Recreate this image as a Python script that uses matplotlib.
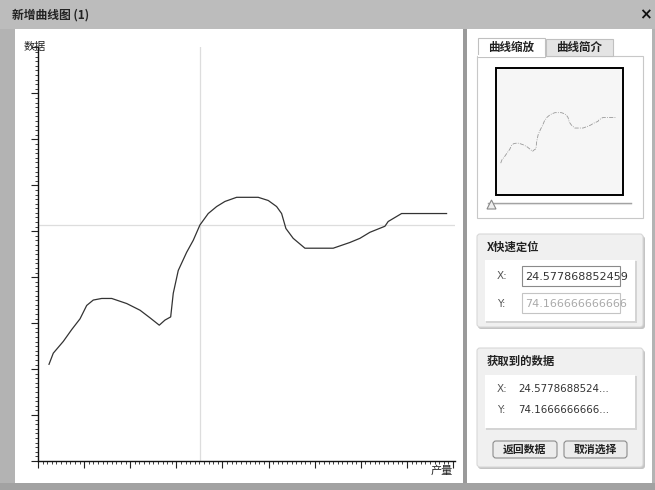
import matplotlib
matplotlib.use("Agg")
import matplotlib.pyplot as plt
from matplotlib.patches import Rectangle, FancyBboxPatch, Polygon
from matplotlib.ticker import MultipleLocator
import numpy as np

plt.rcParams['font.family'] = ['Noto Sans CJK SC', 'DejaVu Sans']

# ---------------- data ----------------
x_vals = [1.67, 2.32, 3.84, 5.11, 6.38, 7.39, 8.39, 9.67, 11.19, 13.47, 15.49,
          17.01, 18.41, 19.27, 20.14, 20.53, 21.29, 22.56, 23.57, 24.58, 25.84,
          27.12, 28.38, 30.15, 33.43, 34.95, 36.22, 36.98, 37.63, 38.74, 40.52,
          44.81, 47.34, 48.86, 50.38, 52.66, 53.16, 55.19, 56.95, 58.98, 62.02]
y_vals = [30.4, 33.9, 37.6, 41.3, 44.7, 48.9, 50.6, 51.1, 51.1, 49.5, 47.4,
          45.0, 42.7, 44.3, 45.3, 52.7, 59.9, 65.6, 69.4, 74.2, 77.8,
          80.0, 81.6, 82.9, 82.9, 81.9, 80.0, 77.8, 73.1, 70.0, 66.9,
          66.9, 68.7, 70.0, 71.9, 73.8, 75.3, 77.8, 77.8, 77.8, 77.8]
cross_x = 24.5778688524
cross_y = 74.1666666666
x_label = "产量"
y_label = "数据"
window_title = "新增曲线图 (1)"
tab_labels = ["曲线缩放", "曲线简介"]
box1_title = "X快速定位"
box2_title = "获取到的数据"
input_x_text = "24.577868852459"
input_y_text = "74.166666666666"
got_x_text = "24.5778688524..."
got_y_text = "74.1666666666..."
button_labels = ["返回数据", "取消选择"]

W, H = 655, 490
fig = plt.figure(figsize=(W / 100, H / 100), dpi=100)

# background axes in pixel coords
bg = fig.add_axes([0, 0, 1, 1])
bg.set_xlim(0, W)
bg.set_ylim(H, 0)
bg.axis('off')
bg.set_zorder(0)


def rect(x0, y0, x1, y1, fc, ec='none', lw=0.8, z=1):
    r = Rectangle((x0, y0), x1 - x0, y1 - y0, facecolor=fc, edgecolor=ec, lw=lw, zorder=z)
    bg.add_patch(r)
    return r


def rbox(x0, y0, x1, y1, fc, ec, lw=0.8, rad=3, z=1):
    r = FancyBboxPatch((x0, y0), x1 - x0, y1 - y0,
                       boxstyle=f"round,pad=0,rounding_size={rad}",
                       facecolor=fc, edgecolor=ec, lw=lw, zorder=z,
                       mutation_aspect=1)
    bg.add_patch(r)
    return r


# window chrome
rect(0, 0, W, H, '#b3b3b3', z=0)
rect(0, 0, W, 29, '#bcbcbc', z=0.5)
rect(0, 483, W, H, '#a2a2a2', z=0.5)
rect(15, 29, 463, 483, 'white', z=1)
rect(463, 29, 467, 483, '#9a9a9a', z=1)
rect(467, 29, 652, 483, 'white', z=1)
bg.text(12, 15, window_title, fontsize=8.5, fontweight='bold', color='#222222',
        va='center', ha='left', zorder=5)
bg.text(645, 15, "×", fontsize=11, fontweight='bold', color='#111111',
        va='center', ha='center', family=['DejaVu Sans'], zorder=5)

# tabs and preview
rect(477, 56, 643, 218, 'white', ec='#c8c8c8', z=2)
rect(546, 39, 613, 56, '#e4e4e4', ec='#c0c0c0', z=2)
rect(478, 38, 545, 57, 'white', ec='#c0c0c0', z=3)
bg.plot([478.6, 544.4], [56.5, 56.5], color='white', lw=1.5, zorder=3.5)
bg.text(511.5, 47.5, tab_labels[0], fontsize=8.3, fontweight='bold', color='#222',
        ha='center', va='center', zorder=5)
bg.text(579.5, 47.5, tab_labels[1], fontsize=8.3, fontweight='bold', color='#222',
        ha='center', va='center', zorder=5)
rect(496, 68, 623, 195, '#f6f6f6', ec='black', lw=1.4, z=3)
bg.plot([488, 631], [203, 203], color='#a0a0a0', lw=1.0, zorder=3)
bg.plot([488, 631], [204.2, 204.2], color='#e0e0e0', lw=0.8, zorder=3)
bg.add_patch(Polygon([[487, 209], [496, 209], [491.5, 200]], closed=True,
                     facecolor='#eeeeee', edgecolor='#888888', lw=0.8, zorder=4))

# box 1
rbox(478, 236, 645, 329, '#c4c4c4', 'none', z=1.5)
rbox(477, 234, 643, 327, '#f0f0f0', '#d8d8d8', z=2)
bg.text(487, 247, box1_title, fontsize=8.2, fontweight='bold', color='#222',
        ha='left', va='center', zorder=5)
rect(486, 261, 637, 323, '#d4d4d4', z=2.5)
rect(485, 260, 635, 321, 'white', z=3)
bg.text(497, 276, "X:", fontsize=7.5, color='#555', family=['DejaVu Sans'],
        ha='left', va='center', zorder=5)
bx = rect(522, 266, 620, 286, 'white', ec='#8a8a8a', lw=0.8, z=4)
t = bg.text(525, 276.5, input_x_text, fontsize=8.0, color='#333', family=['DejaVu Sans'],
            ha='left', va='center', zorder=5)
t.set_clip_path(bx)
bg.text(497, 303.5, "Y:", fontsize=7.5, color='#555', family=['DejaVu Sans'],
        ha='left', va='center', zorder=5)
by = rect(522, 293, 620, 313, 'white', ec='#c4c4c4', lw=0.8, z=4)
t2 = bg.text(525, 303.5, input_y_text, fontsize=8.0, color='#aaaaaa', family=['DejaVu Sans'],
             ha='left', va='center', zorder=5)
t2.set_clip_path(by)

# box 2
rbox(478, 350, 645, 469, '#c4c4c4', 'none', z=1.5)
rbox(477, 348, 643, 467, '#f0f0f0', '#d8d8d8', z=2)
bg.text(487, 361, box2_title, fontsize=8.2, fontweight='bold', color='#222',
        ha='left', va='center', zorder=5)
rect(486, 376, 637, 430, '#d4d4d4', z=2.5)
rect(485, 375, 635, 428, 'white', z=3)
bg.text(497, 389, "X:", fontsize=7.5, color='#555', family=['DejaVu Sans'],
        ha='left', va='center', zorder=5)
bg.text(518, 389, got_x_text, fontsize=7.4, color='#333', family=['DejaVu Sans'],
        ha='left', va='center', zorder=5)
bg.text(497, 410, "Y:", fontsize=7.5, color='#555', family=['DejaVu Sans'],
        ha='left', va='center', zorder=5)
bg.text(518, 410, got_y_text, fontsize=7.4, color='#333', family=['DejaVu Sans'],
        ha='left', va='center', zorder=5)
for (x0, x1), lab in zip([(493, 557), (564, 627)], button_labels):
    rbox(x0, 441, x1, 458, '#ececec', '#8c8c8c', lw=0.8, rad=3, z=3)
    bg.text((x0 + x1) / 2, 449.5, lab, fontsize=7.8, fontweight='bold', color='#222',
            ha='center', va='center', zorder=5)

# axis labels
bg.text(35, 47, y_label, fontsize=8, color='#222', ha='center', va='center', zorder=6)
bg.text(442, 471, x_label, fontsize=8, color='#222', ha='center', va='center', zorder=6)

# ---------------- main chart ----------------
ax = fig.add_axes([38 / W, (H - 461) / H, 417 / W, 413.5 / H])
ax.set_zorder(2)
ax.patch.set_alpha(0)
ax.set_xlim(0, 63.3)
ax.set_ylim(0, 130)
ax.axvline(cross_x, color='#dddddd', lw=0.9, zorder=1)
ax.axhline(cross_y, color='#dddddd', lw=0.9, zorder=1)
ax.plot(x_vals, y_vals, color='#333333', lw=0.9, zorder=3)
for s in ['top', 'right']:
    ax.spines[s].set_visible(False)
for s in ['left', 'bottom']:
    ax.spines[s].set_linewidth(1.0)
    ax.spines[s].set_color('#111111')
ax.xaxis.set_major_locator(MultipleLocator(7))
ax.xaxis.set_minor_locator(MultipleLocator(0.7))
ax.yaxis.set_major_locator(MultipleLocator(130 / 9))
ax.yaxis.set_minor_locator(MultipleLocator(13 / 9))
ax.tick_params(which='major', length=5, width=0.8, color='#222', direction='out',
               labelleft=False, labelbottom=False)
ax.tick_params(which='minor', length=2.2, width=0.6, color='#222', direction='out')

# ---------------- preview chart ----------------
axp = fig.add_axes([496 / W, (H - 195) / H, 127 / W, 127 / H])
axp.set_zorder(3)
axp.patch.set_alpha(0)
axp.set_xlim(-0.8, 65.8)
axp.set_ylim(-2.7, 129.3)
axp.plot(x_vals, y_vals, color='#999999', lw=0.6, linestyle=(0, (5, 1.5, 1, 1.5)))
axp.axis('off')

fig.savefig("out.png", dpi=100)
